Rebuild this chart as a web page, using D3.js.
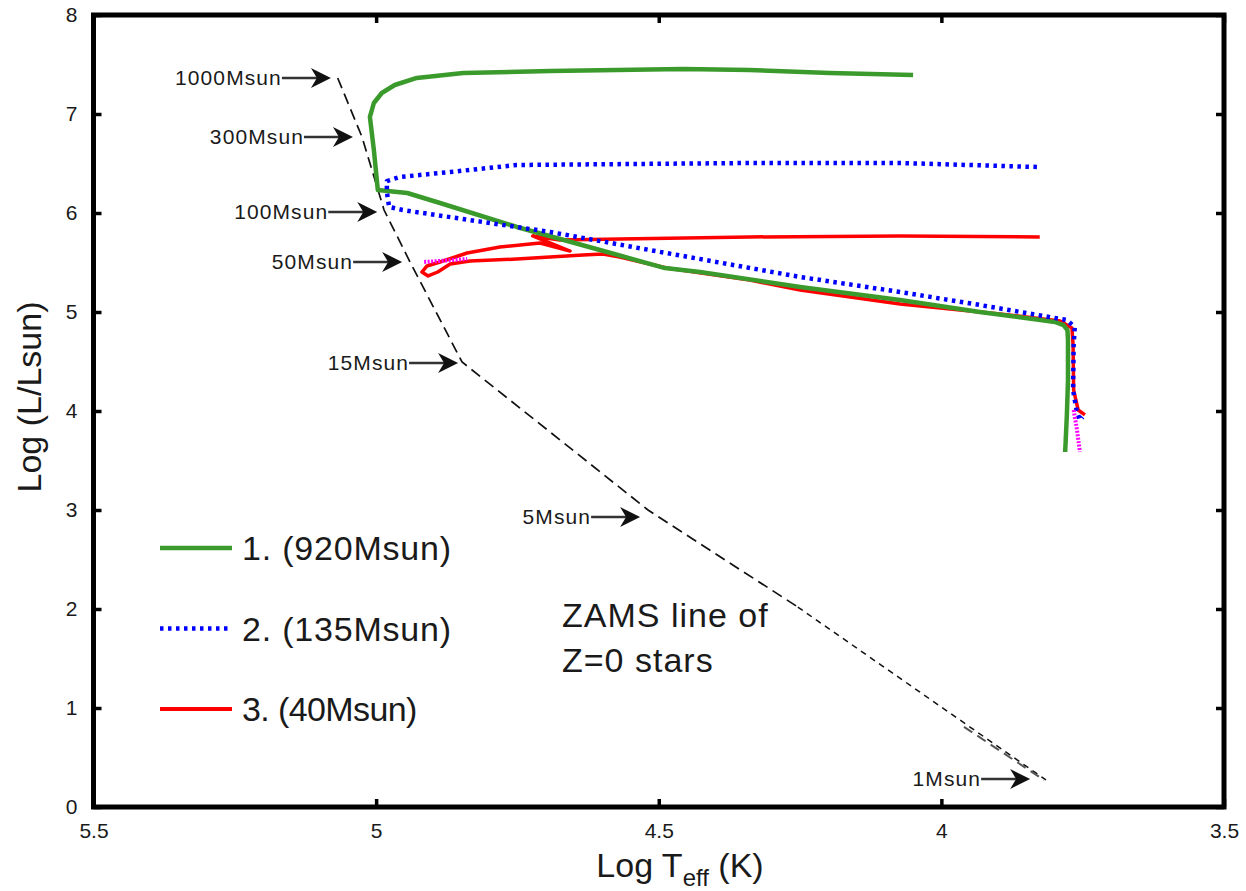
<!DOCTYPE html>
<html>
<head>
<meta charset="utf-8">
<script src="https://cdn.jsdelivr.net/npm/d3@7"></script>
<style>
  body { margin: 0; background: #fff; }
  svg { display: block; }
  text { font-family: "Liberation Sans", Arial, Helvetica, sans-serif; fill: #1a1a1a; }
</style>
</head>
<body>
<svg id="chart" width="1246" height="891"></svg>
<script>
// Axis ticks
const xTicks = [5.5, 5, 4.5, 4, 3.5];
const yTicks = [0, 1, 2, 3, 4, 5, 6, 7, 8];

// ZAMS line of Z=0 stars, [log Teff, log L/Lsun]
const zamsUpper = [[5.068, 7.364], [5.025, 6.768], [4.986, 6.030], [4.940, 5.505], [4.848, 4.495], [4.519, 3.000], [4.254, 2.020]];
const zamsLower = [[4.254, 2.020], [3.815, 0.273]];
const zamsDouble = [[3.960, 0.810], [3.818, 0.270]];

// mass labels on the ZAMS (arrow tip positions)
const massNames = ['1000Msun', '300Msun', '100Msun', '50Msun', '15Msun', '5Msun', '1Msun'];
const massTipT = [5.080, 5.041, 4.998, 4.954, 4.855, 4.533, 3.843];
const massTipL = [7.364, 6.768, 6.010, 5.505, 4.485, 2.929, 0.283];

// evolutionary tracks
const track920 = [[4.050, 7.394], [4.197, 7.414], [4.339, 7.444], [4.457, 7.455], [4.692, 7.434], [4.846, 7.414],
  [4.928, 7.364], [4.967, 7.293], [4.990, 7.212], [5.004, 7.111], [5.011, 6.970], [5.004, 6.636], [4.997, 6.232],
  [4.945, 6.202], [4.887, 6.101], [4.751, 5.859], [4.604, 5.626], [4.489, 5.444], [4.427, 5.404], [4.250, 5.253],
  [4.073, 5.121], [3.932, 5.000], [3.799, 4.899], [3.784, 4.868], [3.777, 4.817], [3.776, 4.717], [3.776, 4.313],
  [3.778, 3.960], [3.781, 3.586]];
const track135 = [[3.831, 6.465], [4.073, 6.505], [4.339, 6.505], [4.751, 6.485], [4.869, 6.414], [4.958, 6.364],
  [4.981, 6.323], [4.981, 6.212], [4.977, 6.061], [4.953, 6.030], [4.811, 5.909], [4.692, 5.808], [4.516, 5.626],
  [4.250, 5.354], [4.073, 5.202], [3.932, 5.071], [3.778, 4.919], [3.764, 4.848], [3.766, 4.667], [3.767, 4.212],
  [3.761, 4.010], [3.755, 3.909], [3.750, 3.939]];
const track40 = [[3.826, 5.758], [4.073, 5.768], [4.339, 5.758], [4.569, 5.737], [4.675, 5.727], [4.723, 5.768],
  [4.657, 5.616], [4.710, 5.697], [4.781, 5.657], [4.839, 5.596], [4.887, 5.505], [4.910, 5.465], [4.919, 5.404],
  [4.908, 5.364], [4.891, 5.404], [4.869, 5.485], [4.834, 5.515], [4.751, 5.535], [4.634, 5.576], [4.599, 5.586],
  [4.569, 5.556], [4.486, 5.444], [4.339, 5.323], [4.250, 5.222], [4.073, 5.081], [3.896, 4.980], [3.790, 4.909],
  [3.769, 4.838], [3.767, 4.667], [3.766, 4.212], [3.758, 4.010], [3.746, 3.960]];
const magentaStart = [[4.915, 5.505], [4.839, 5.535]];
const magentaEnd = [[3.766, 4.010], [3.760, 3.808], [3.755, 3.586]];

const legendNames = ['1. (920Msun)', '2. (135Msun)', '3. (40Msun)'];

// line styles
const styles = {
  green: { color: '#3b9a2c', width: 4.5, dash: null },
  blue: { color: '#0000ff', width: 4.5, dash: '3.5,4.5' },
  red: { color: '#ff0000', width: 3.5, dash: null },
  magenta: { color: '#ff00ff', width: 4, dash: '2,1.5' }
};

const svg = d3.select('#chart');
svg.append('rect').attr('width', 1246).attr('height', 891).attr('fill', '#fff');

const x = d3.scaleLinear().domain([5.5, 3.5]).range([93.5, 1224]);
const y = d3.scaleLinear().domain([0, 8]).range([807, 15]);

// axes with inward ticks on all four sides
function styleAxis(g) {
  g.select('.domain').remove();
  g.selectAll('.tick line').attr('stroke', '#000').attr('stroke-width', 3.5);
  g.selectAll('.tick text').style('font-size', '21px').attr('fill', '#222');
}
svg.append('g').attr('transform', `translate(0,${y(0)})`)
  .call(d3.axisBottom(x).tickValues(xTicks).tickSize(-8).tickPadding(16).tickFormat(d3.format('')))
  .call(styleAxis);
svg.append('g').attr('transform', `translate(0,${y(8)})`)
  .call(d3.axisTop(x).tickValues(xTicks).tickSize(-8).tickFormat(''))
  .call(styleAxis);
svg.append('g').attr('transform', `translate(${x(5.5)},0)`)
  .call(d3.axisLeft(y).tickValues(yTicks).tickSize(-8).tickPadding(16).tickFormat(d3.format('')))
  .call(styleAxis);
svg.append('g').attr('transform', `translate(${x(3.5)},0)`)
  .call(d3.axisRight(y).tickValues(yTicks).tickSize(-8).tickFormat(''))
  .call(styleAxis);

// frame
svg.append('rect')
  .attr('x', x(5.5)).attr('y', y(8))
  .attr('width', x(3.5) - x(5.5)).attr('height', y(0) - y(8))
  .attr('fill', 'none').attr('stroke', '#000').attr('stroke-width', 5);

const line = d3.line().x(d => x(d[0])).y(d => y(d[1]));

// ZAMS dashed line
svg.append('path').attr('d', line(zamsUpper)).attr('fill', 'none')
  .attr('stroke', '#111').attr('stroke-width', 1.7).attr('stroke-dasharray', '11,6');
svg.append('path').attr('d', line(zamsLower)).attr('fill', 'none')
  .attr('stroke', '#111').attr('stroke-width', 1.5).attr('stroke-dasharray', '6,5');
svg.append('path').attr('d', line(zamsDouble)).attr('fill', 'none')
  .attr('stroke', '#555').attr('stroke-width', 2).attr('stroke-dasharray', '10,6');

// tracks
function drawTrack(data, s) {
  svg.append('path').attr('d', line(data)).attr('fill', 'none')
    .attr('stroke', s.color).attr('stroke-width', s.width)
    .attr('stroke-linejoin', 'round')
    .attr('stroke-dasharray', s.dash);
}
drawTrack(track40, styles.red);
drawTrack(track920, styles.green);
drawTrack(track135, styles.blue);
drawTrack(magentaStart, styles.magenta);
drawTrack(magentaEnd, styles.magenta);

// mass labels with arrows
massNames.forEach((name, i) => {
  const tx = x(massTipT[i]);
  const ty = y(massTipL[i]);
  const g = svg.append('g').attr('transform', `translate(${tx},${ty})`);
  g.append('line').attr('x1', -49).attr('x2', -12).attr('y1', 0).attr('y2', 0)
    .attr('stroke', '#333').attr('stroke-width', 2.5);
  g.append('path').attr('d', 'M0,0 L-20,-10 L-14,0 L-20,10 Z').attr('fill', '#111');
  g.append('text').attr('x', -49).attr('y', 7).attr('text-anchor', 'end')
    .attr('fill', '#2a2a2a')
    .style('font-size', '21px').style('letter-spacing', '1.1px').text(name);
});

// ZAMS caption
svg.append('text').attr('x', 562).attr('y', 627).style('font-size', '34px')
  .style('letter-spacing', '1px').text('ZAMS line of');
svg.append('text').attr('x', 562).attr('y', 672).style('font-size', '34px')
  .style('letter-spacing', '1px').text('Z=0 stars');

// legend
const legendStyles = [styles.green, styles.blue, styles.red];
legendNames.forEach((name, i) => {
  const ly = 548 + i * 80.5;
  const s = legendStyles[i];
  svg.append('line').attr('x1', 160).attr('x2', 232).attr('y1', ly).attr('y2', ly)
    .attr('stroke', s.color).attr('stroke-width', s.width === 3.5 ? 4 : s.width)
    .attr('stroke-dasharray', s.dash);
  svg.append('text').attr('x', 242).attr('y', ly + 12).style('font-size', '34px')
    .style('letter-spacing', i === 2 ? '-0.6px' : '0.8px').text(name);
});

// axis titles
const xt = svg.append('text').attr('x', 680).attr('y', 877).attr('text-anchor', 'middle').style('font-size', '34px');
xt.append('tspan').text('Log T');
xt.append('tspan').attr('dy', 9).style('font-size', '24px').text('eff');
xt.append('tspan').attr('dy', -9).text(' (K)');

svg.append('text').attr('transform', 'translate(41,397) rotate(-90)')
  .attr('text-anchor', 'middle').style('font-size', '34px').text('Log (L/Lsun)');
</script>
</body>
</html>
